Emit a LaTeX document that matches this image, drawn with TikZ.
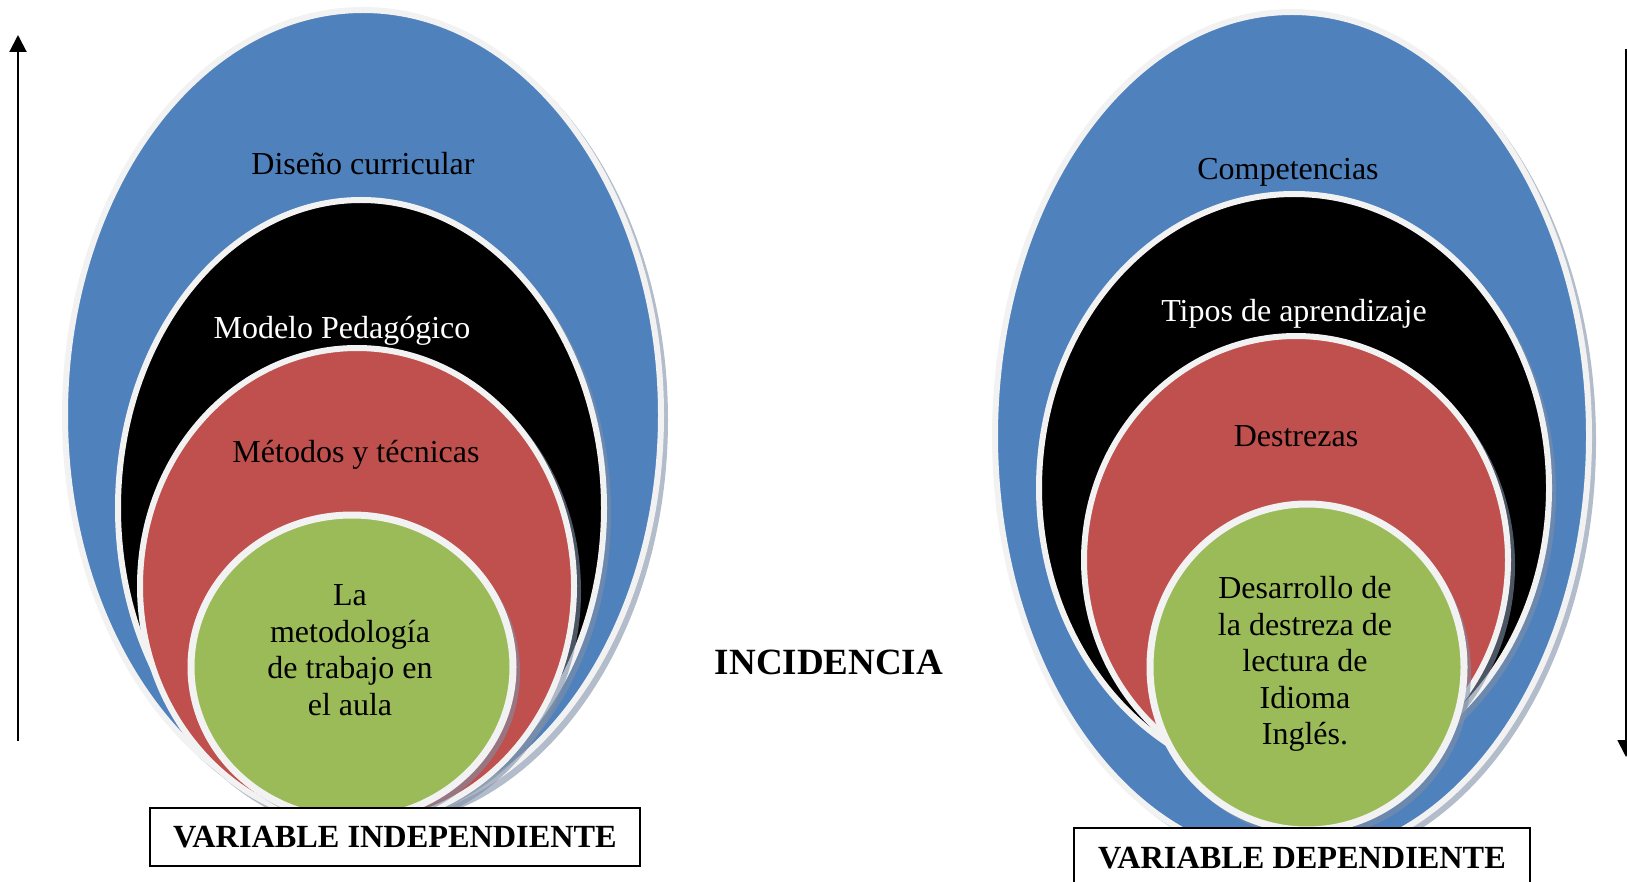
\documentclass[tikz,border=0pt]{standalone}
\usepackage{fontspec}
\setmainfont{Liberation Serif}
\usetikzlibrary{arrows.meta}
\definecolor{cblue}{HTML}{4F81BD}
\definecolor{cblack}{HTML}{000000}
\definecolor{cred}{HTML}{C0504D}
\definecolor{cgreen}{HTML}{9BBB59}
\definecolor{ringc}{HTML}{F2F2F2}
\definecolor{shadc}{HTML}{7F8FA6}
\begin{document}
\begin{tikzpicture}[x=1pt,y=-1pt,
  ring/.style={draw=ringc, line width=6pt},
  shad/.style={fill=shadc, opacity=0.6},
  lbl/.style={font=\fontsize{32}{36.5}\selectfont, align=center, inner sep=0pt},
  boxlbl/.style={draw=black, line width=1.5pt, font=\fontsize{32.3}{36}\selectfont\bfseries, inner sep=0pt},
  axis/.style={line width=2pt, -{Triangle[width=17pt,length=17pt]}}]
\useasboundingbox (0,0) rectangle (1627,882);
% left group
\fill[shad] (368,420) ellipse [x radius=300pt, y radius=408pt];
\filldraw[ring, fill=cblue] (363,415) ellipse [x radius=298pt, y radius=405pt];
\fill[shad] (366,513) ellipse [x radius=245pt, y radius=311pt];
\filldraw[ring, fill=cblack] (361,508) ellipse [x radius=243pt, y radius=308pt];
\fill[shad] (362,591) ellipse [x radius=219pt, y radius=241pt];
\filldraw[ring, fill=cred] (357,586) ellipse [x radius=217pt, y radius=238pt];
\fill[shad] (357,672) ellipse [x radius=163pt, y radius=154pt];
\filldraw[ring, line width=7pt, fill=cgreen] (352,667) ellipse [x radius=161pt, y radius=152pt];
% right group
\fill[shad] (1297,441) ellipse [x radius=299pt, y radius=426pt];
\filldraw[ring, fill=cblue] (1292,436) ellipse [x radius=297pt, y radius=424pt];
\fill[shad] (1299,493) ellipse [x radius=257pt, y radius=296pt];
\filldraw[ring, fill=cblack] (1294,488) ellipse [x radius=255pt, y radius=294pt];
\fill[shad] (1301,565) ellipse [x radius=214pt, y radius=226pt];
\filldraw[ring, fill=cred] (1296,560) ellipse [x radius=212pt, y radius=224pt];
\fill[shad] (1312,673) ellipse [x radius=159pt, y radius=165pt];
\filldraw[ring, line width=7pt, fill=cgreen] (1307,667) ellipse [x radius=157pt, y radius=163pt];
% labels left
\node[lbl] (dc) at (363,164) {Diseño curricular};
\node[lbl, text=white] (mp) at (342,331) {Modelo Pedagógico};
\node[lbl] (mt) at (356,455) {Métodos y técnicas};
\node[lbl] (lm) at (350,650) {La\\metodología\\de trabajo en\\el aula};
% labels right
\node[lbl] (co) at (1288,172) {Competencias};
\node[lbl, text=white] (ta) at (1294,314) {Tipos de aprendizaje};
\node[lbl] (de) at (1296,436) {Destrezas};
\node[lbl] (dd) at (1305,664) {Desarrollo de\\la destreza de\\lectura de\\Idioma\\Inglés.};
% center
\node[font=\fontsize{37}{40}\selectfont\bfseries, inner sep=0pt] (inc) at (829,662) {INCIDENCIA};
% boxes
\node[boxlbl, fill=white, minimum width=490pt, minimum height=58pt] (vi) at (395,837) {VARIABLE INDEPENDIENTE};
\node[boxlbl, fill=white, minimum width=456pt, minimum height=70pt, anchor=north] (vd) at (1302,827) {\raisebox{9pt}{VARIABLE DEPENDIENTE}};
% axes
\coordinate (la0) at (18,741);
\coordinate (la1) at (18,35);
\coordinate (ra0) at (1626,49);
\coordinate (ra1) at (1626,757);
\draw[axis] (la0) -- (la1);
\draw[axis] (ra0) -- (ra1);
\end{tikzpicture}
\end{document}
